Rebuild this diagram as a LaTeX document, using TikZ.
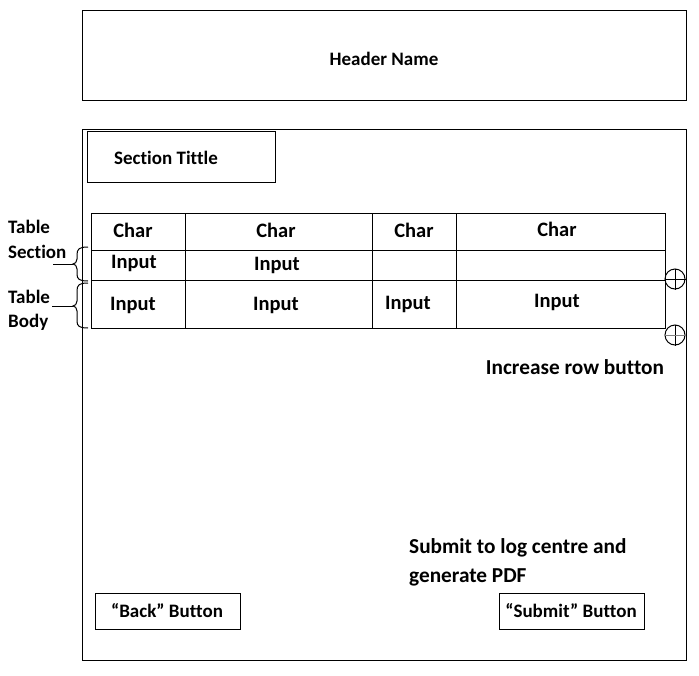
\documentclass[tikz,border=0pt]{standalone}
\usepackage{fontspec}
\setmainfont{Carlito}[Ligatures=NoCommon]
\begin{document}
\begin{tikzpicture}[x=1pt,y=-1pt,
  every node/.style={font=\bfseries\fontsize{19}{22}\selectfont, inner sep=0pt},
  cell/.style={font=\bfseries\fontsize{20.5}{24}\selectfont},
  big/.style={font=\bfseries\fontsize{21.3}{25}\selectfont},
  frame/.style={draw, line width=1pt},
  thin/.style={line width=1pt}]
\useasboundingbox (0,0) rectangle (699,675);
% header
\draw[frame] (82,10) rectangle (686,100);
\node (header) at (384,59) {Header Name};
% main
\draw[frame] (82,129) rectangle (686,660);
\draw[frame] (87,131) rectangle (275,182);
\node (sectitle) at (166,158) {Section Tittle};
% table grid
\draw[frame] (91,213) rectangle (665,328);
\draw[thin] (91,250) -- (665,250);
\draw[thin] (91,280) -- (665,280);
\draw[thin] (185,213) -- (185,328);
\draw[thin] (372,213) -- (372,328);
\draw[thin] (456,213) -- (456,328);
\node[cell] (c1) at (133,230) {Char};
\node[cell] (c2) at (276,230) {Char};
\node[cell] (c3) at (414,230) {Char};
\node[cell] (c4) at (557,229) {Char};
\node[cell] (i1) at (134,263) {Input};
\node[cell] (i2) at (277,265) {Input};
\node[cell] (j1) at (133,305) {Input};
\node[cell] (j2) at (276,305) {Input};
\node[cell] (j3) at (408,304) {Input};
\node[cell] (j4) at (557,302) {Input};
% plus circles
\node[draw, circle, minimum size=20pt, thin] (p1) at (675,279) {};
\draw[thin] (p1.north) -- (p1.south) (p1.west) -- (p1.east);
\node[draw, circle, minimum size=20pt, thin] (p2) at (675,335) {};
\draw[thin] (p2.north) -- (p2.south);
\draw[line width=1pt, gray] (p2.west) -- (p2.east);
\node[big] (inc) at (575,367) {Increase row button};
% left labels
\node[anchor=west] (t1) at (8,227) {Table};
\node[anchor=west] (s1) at (8,252) {Section};
\node[anchor=west] (t2) at (8,297) {Table};
\node[anchor=west] (b2) at (8,322) {Body};
\coordinate (tip1) at (73,264);
\coordinate (tip2) at (73,306);
\draw[thin] (88,247) .. controls (79,247) and (77,249) .. (77,255) -- (77,259)
  .. controls (77,262) and (75,264) .. (tip1)
  .. controls (75,264) and (77,266) .. (77,269) -- (77,274)
  .. controls (77,279) and (79,281) .. (88,281);
\draw[thin] (88,283) .. controls (79,283) and (77,285) .. (77,291) -- (77,301)
  .. controls (77,304) and (75,306) .. (tip2)
  .. controls (75,306) and (77,308) .. (77,311) -- (77,321)
  .. controls (77,326) and (79,328) .. (88,328);
\draw[thin] (53,264) -- (tip1);
\draw[thin] (52,306) -- (tip2);
% bottom
\node[big, anchor=west] (sub1) at (409,548) {Submit to log centre and};
\node[big, anchor=west] (sub2) at (409,577) {generate PDF};
\draw[frame] (95,593) rectangle (240,629);
\node (back) at (167,611) {“Back” Button};
\draw[frame] (499,593) rectangle (644,629);
\node (submit) at (571,611) {“Submit” Button};
\end{tikzpicture}
\end{document}
